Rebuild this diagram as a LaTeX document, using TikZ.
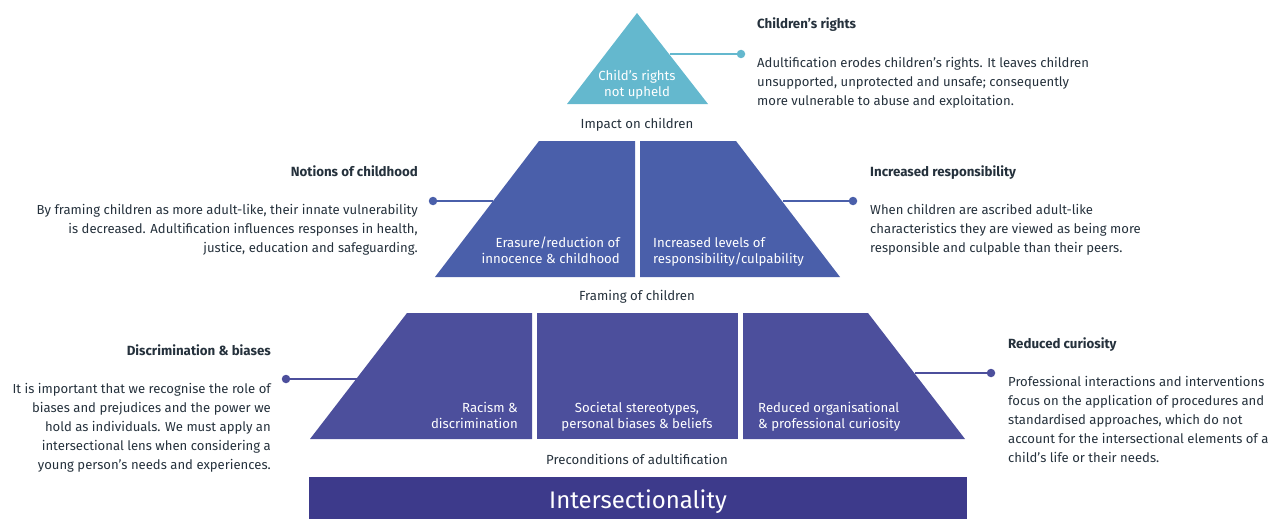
\documentclass[tikz,border=0pt]{standalone}
\usepackage{fontspec}
\setmainfont{Fira Sans}
\definecolor{tealc}{HTML}{64B8CE}
\definecolor{bluec}{HTML}{4A5FAA}
\definecolor{indc}{HTML}{4C4F9C}
\definecolor{barc}{HTML}{3D3A8B}
\definecolor{txtc}{HTML}{25313C}
\begin{document}
\begin{tikzpicture}[x=1pt,y=-1pt,
  head/.style={font=\fontsize{13.3}{19}\selectfont\bfseries, text=txtc, inner sep=0},
  body/.style={font=\fontsize{13.1}{19}\selectfont, text=txtc, inner sep=0},
  tier/.style={font=\fontsize{13.2}{19}\selectfont, text=txtc, inner sep=0, anchor=base},
  intext/.style={font=\fontsize{13.2}{16}\selectfont, text=white, inner sep=0},
  conn/.style={line width=2pt},
  dot/.style={circle, fill, inner sep=0, minimum size=8.5pt},
]
\useasboundingbox (0,0) rectangle (1271,519);

% ---------- top triangle ----------
\fill[tealc] (637,13) -- (708,104) -- (567,104) -- cycle;
\node[intext, anchor=north, align=center] (t1) at (637,80-11.2) {\strut Child’s rights\\not upheld};
\coordinate (e1) at (669.5,54);
\node[dot, fill=tealc] (d1) at (741,54) {};
\draw[conn, tealc] (e1) -- (d1);

\node[head, anchor=base west] (h1) at (757,29) {Children’s rights};
\node[body, anchor=north west, align=left] (b1) at (757,67-13.3) {\strut Adultification erodes children’s rights. It leaves children\\unsupported, unprotected and unsafe; consequently\\more vulnerable to abuse and exploitation.};

\node[tier] (l1) at (637,128) {Impact on children};

% ---------- middle tier ----------
\fill[bluec] (539,141) -- (635,141) -- (635,277) -- (435,277) -- cycle;
\fill[bluec] (640,141) -- (736,141) -- (840,277) -- (640,277) -- cycle;
\node[intext, anchor=north east, align=right] (m1) at (620,247-11.2) {\strut Erasure/reduction of\\innocence \& childhood};
\node[intext, anchor=north west, align=left] (m2) at (653,247-11.2) {\strut Increased levels of\\responsibility/culpability};

\coordinate (e2) at (493,201);
\node[dot, fill=bluec] (d2) at (433,201) {};
\draw[conn, bluec] (e2) -- (d2);
\coordinate (e3) at (783,201);
\node[dot, fill=bluec] (d3) at (853,201) {};
\draw[conn, bluec] (e3) -- (d3);

\node[head, anchor=base east] (h2) at (418,176) {Notions of childhood};
\node[body, anchor=north east, align=right] (b2) at (418,214-13.3) {\strut By framing children as more adult-like, their innate vulnerability\\is decreased. Adultification influences responses in health,\\justice, education and safeguarding.};

\node[head, anchor=base west] (h3) at (870,176) {Increased responsibility};
\node[body, anchor=north west, align=left] (b3) at (870,214-13.3) {\strut When children are ascribed adult-like\\characteristics they are viewed as being more\\responsible and culpable than their peers.};

\node[tier] (l2) at (637,300) {Framing of children};

% ---------- bottom tier ----------
\fill[indc] (407,313) -- (532,313) -- (532,439) -- (310,439) -- cycle;
\fill[indc] (537,313) -- (738,313) -- (738,439) -- (537,439) -- cycle;
\fill[indc] (743,313) -- (868,313) -- (965,439) -- (743,439) -- cycle;
\node[intext, anchor=north east, align=right] (p1) at (518,412-11.2) {\strut Racism \&\\discrimination};
\node[intext, anchor=north, align=center] (p2) at (637,412-11.2) {\strut Societal stereotypes,\\personal biases \& beliefs};
\node[intext, anchor=north west, align=left] (p3) at (758,412-11.2) {\strut Reduced organisational\\\& professional curiosity};

\coordinate (e4) at (357,379);
\node[dot, fill=indc] (d4) at (286,379) {};
\draw[conn, indc] (e4) -- (d4);
\coordinate (e5) at (915,373);
\node[dot, fill=indc] (d5) at (991,373) {};
\draw[conn, indc] (e5) -- (d5);

\node[head, anchor=base east] (h4) at (271,355) {Discrimination \& biases};
\node[body, anchor=north east, align=right] (b4) at (271,393-13.3) {\strut It is important that we recognise the role of\\biases and prejudices and the power we\\hold as individuals. We must apply an\\intersectional lens when considering a\\young person’s needs and experiences.};

\node[head, anchor=base west] (h5) at (1008,348) {Reduced curiosity};
\node[body, anchor=north west, align=left] (b5) at (1008,386-13.3) {\strut Professional interactions and interventions\\focus on the application of procedures and\\standardised approaches, which do not\\account for the intersectional elements of a\\child’s life or their needs.};

\node[tier] (l3) at (637,464) {Preconditions of adultification};

% ---------- base bar ----------
\fill[barc] (309,477) rectangle (967,519);
\node[font=\fontsize{24}{30}\selectfont, text=white, inner sep=0, anchor=base] (bar) at (638,508) {Intersectionality};
\end{tikzpicture}
\end{document}
